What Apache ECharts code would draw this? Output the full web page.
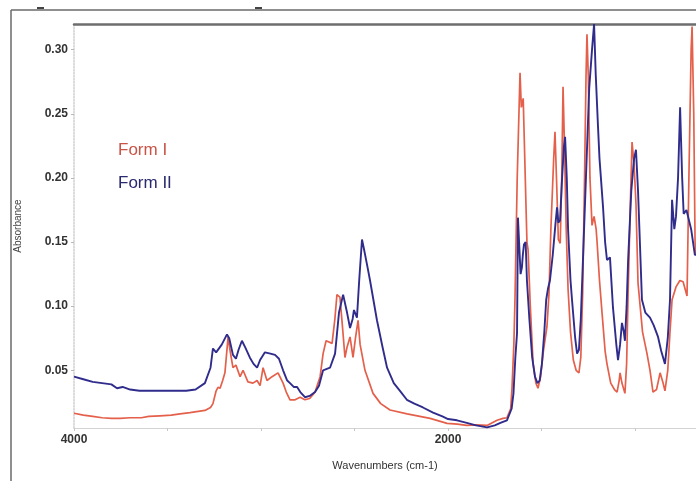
<!DOCTYPE html>
<html>
<head>
<meta charset="utf-8">
<script src="https://cdn.jsdelivr.net/npm/echarts@6/dist/echarts.min.js"></script>
<style>
  html, body { margin: 0; padding: 0; background: #fff; }
  #chart { width: 696px; height: 481px; }
</style>
</head>
<body>
<div id="chart"></div>
<script>
// Form I (red) spectrum
const formIWavenumbers = [4000,3950,3900,3850,3800,3754,3700,3640,3600,3540,
  3480,3433,3380,3300,3270,3257,3240,3230,3219,3205,
  3193,3176,3165,3150,3134,3112,3096,3070,3043,3021,
  3005,2989,2968,2941,2909,2882,2865,2845,2818,2791,
  2765,2740,2711,2684,2668,2652,2642,2620,2605,2594,
  2578,2565,2551,2540,2524,2508,2495,2481,2470,2444,
  2401,2360,2310,2219,2096,2005,1950,1900,1850,1791,
  1738,1706,1685,1665,1658,1648,1642,1630,1615,1608,
  1598,1588,1578,1572,1560,1545,1530,1519,1505,1490,
  1471,1460,1450,1435,1428,1420,1410,1400,1392,1385,
  1378,1368,1358,1345,1330,1315,1300,1290,1280,1270,
  1262,1257,1250,1241,1230,1219,1208,1203,1190,1176,
  1160,1150,1130,1110,1096,1085,1080,1070,1054,1045,
  1037,1025,1016,1005,995,984,960,936,920,904,
  885,866,850,840,825,813,802,781,760,743,
  722,712,700,695,686,679,674];
const formIAbsorbance = [0.0165,0.015,0.014,0.013,0.0125,0.0125,0.013,0.013,0.014,0.0145,
  0.015,0.016,0.017,0.0187,0.021,0.024,0.034,0.0367,0.036,0.042,
  0.048,0.076,0.065,0.052,0.054,0.045,0.050,0.041,0.040,0.042,
  0.038,0.052,0.042,0.045,0.048,0.040,0.033,0.027,0.027,0.029,
  0.027,0.028,0.033,0.045,0.063,0.073,0.074,0.071,0.090,0.109,
  0.107,0.085,0.060,0.068,0.076,0.060,0.075,0.089,0.070,0.050,
  0.032,0.024,0.019,0.016,0.0125,0.0086,0.008,0.007,0.0075,0.007,
  0.011,0.0125,0.013,0.020,0.036,0.070,0.105,0.200,0.282,0.255,
  0.262,0.261,0.150,0.144,0.100,0.055,0.040,0.036,0.045,0.065,
  0.084,0.110,0.160,0.215,0.236,0.200,0.152,0.149,0.200,0.271,
  0.230,0.160,0.113,0.080,0.058,0.050,0.048,0.060,0.110,0.200,
  0.280,0.312,0.280,0.200,0.163,0.170,0.160,0.150,0.120,0.094,
  0.065,0.055,0.040,0.035,0.033,0.042,0.048,0.040,0.032,0.055,
  0.110,0.180,0.228,0.210,0.180,0.118,0.080,0.063,0.050,0.033,
  0.035,0.048,0.040,0.034,0.050,0.080,0.105,0.115,0.120,0.119,
  0.108,0.200,0.300,0.318,0.250,0.150,0.140];

// Form II (blue) spectrum
const formIIWavenumbers = [4000,3950,3900,3850,3800,3770,3740,3700,3650,3600,
  3500,3400,3350,3300,3270,3257,3240,3230,3210,3182,
  3170,3150,3134,3120,3102,3085,3060,3040,3021,3005,
  2979,2950,2925,2904,2882,2860,2845,2825,2807,2790,
  2765,2740,2711,2690,2668,2631,2604,2583,2561,2540,
  2524,2510,2503,2487,2475,2460,2450,2430,2417,2380,
  2350,2326,2290,2257,2220,2180,2134,2080,2030,2000,
  1952,1900,1850,1791,1750,1720,1685,1660,1650,1640,
  1631,1626,1620,1612,1605,1600,1594,1585,1578,1565,
  1550,1535,1522,1510,1498,1485,1475,1465,1455,1440,
  1425,1417,1410,1401,1390,1380,1374,1365,1358,1345,
  1337,1320,1310,1300,1290,1275,1260,1245,1230,1219,
  1210,1198,1190,1171,1160,1150,1134,1118,1100,1091,
  1080,1070,1060,1054,1045,1037,1020,1005,995,984,
  963,945,920,900,877,860,840,825,813,802,
  790,781,770,759,748,740,725,717,700,680,
  674];
const formIIAbsorbance = [0.045,0.043,0.041,0.040,0.039,0.036,0.037,0.035,0.034,0.034,
  0.034,0.034,0.035,0.040,0.052,0.067,0.064,0.063,0.070,0.078,
  0.075,0.062,0.059,0.066,0.073,0.068,0.060,0.055,0.052,0.058,
  0.064,0.063,0.062,0.059,0.050,0.042,0.040,0.037,0.037,0.033,
  0.029,0.030,0.033,0.038,0.050,0.052,0.063,0.095,0.109,0.095,
  0.083,0.090,0.097,0.091,0.120,0.152,0.145,0.130,0.120,0.089,
  0.068,0.052,0.040,0.034,0.027,0.024,0.021,0.017,0.014,0.012,
  0.011,0.009,0.007,0.0055,0.007,0.009,0.011,0.020,0.032,0.060,
  0.079,0.169,0.150,0.125,0.130,0.140,0.148,0.150,0.120,0.090,
  0.060,0.045,0.040,0.042,0.055,0.080,0.105,0.114,0.120,0.140,
  0.165,0.177,0.165,0.167,0.200,0.225,0.232,0.200,0.160,0.120,
  0.105,0.075,0.063,0.066,0.090,0.150,0.210,0.270,0.300,0.320,
  0.280,0.240,0.215,0.177,0.150,0.136,0.138,0.099,0.070,0.058,
  0.070,0.087,0.080,0.073,0.100,0.136,0.190,0.215,0.222,0.190,
  0.105,0.095,0.091,0.085,0.076,0.065,0.055,0.075,0.105,0.183,
  0.160,0.170,0.200,0.255,0.200,0.172,0.175,0.175,0.160,0.140,
  0.140];

const xTickValues = [1000, 1500, 2000, 2500, 3000, 3500, 4000];
const xLabelValues = [2000, 4000];
const yTickValues = [0.05, 0.10, 0.15, 0.20, 0.25, 0.30];

const zip = (xs, ys) => xs.map((x, i) => [x, ys[i]]);

const font = "'Liberation Sans', Arial, sans-serif";
const red = "#e4604b";
const blue = "#2f2c8c";

const chart = echarts.init(document.getElementById("chart"));

chart.setOption({
  backgroundColor: "#fff",
  animation: false,
  textStyle: { fontFamily: font },
  grid: { left: 74, right: 0, top: 24, bottom: 53 },
  legend: {
    orient: "vertical",
    left: 113,
    top: 140,
    padding: 0,
    icon: "none",
    itemWidth: 0,
    itemHeight: 14,
    itemGap: 13,
    selectedMode: false,
    textStyle: { fontSize: 17, lineHeight: 20, fontFamily: font },
    data: [
      { name: "Form I", textStyle: { color: "#c85446" } },
      { name: "Form II", textStyle: { color: "#2a2a6e" } },
    ],
  },
  xAxis: [
    {
      type: "value",
      inverse: true,
      min: 674,
      max: 4000,
      name: "Wavenumbers (cm-1)",
      nameLocation: "middle",
      nameGap: 32,
      nameTextStyle: { fontSize: 11, color: "#333", fontFamily: font },
      axisLine: { lineStyle: { color: "#d4d4d4", width: 1 } },
      axisTick: { show: true, length: 3, customValues: xTickValues, lineStyle: { color: "#c8c8c8" } },
      axisLabel: {
        customValues: xLabelValues,
        formatter: (v) => String(v),
        fontSize: 12,
        fontWeight: "bold",
        color: "#333",
        margin: 6,
      },
      splitLine: { show: false },
    },
    {
      type: "value",
      position: "top",
      inverse: true,
      min: 674,
      max: 4000,
      axisLine: { show: true, lineStyle: { color: "#6e6e6e", width: 2.5 } },
      axisTick: { show: false },
      axisLabel: { show: false },
      splitLine: { show: false },
    },
  ],
  yAxis: {
    type: "value",
    min: 0.005,
    max: 0.32,
    name: "Absorbance",
    nameLocation: "middle",
    nameGap: 51,
    nameTextStyle: { fontSize: 10, color: "#444", fontFamily: font },
    axisLine: { show: true, lineStyle: { color: "#d0d0d0", type: "dotted", width: 1.5 } },
    axisTick: { show: true, length: 3, customValues: yTickValues, lineStyle: { color: "#b8b8b8" } },
    axisLabel: {
      customValues: yTickValues,
      formatter: (v) => v.toFixed(2),
      fontSize: 12,
      fontWeight: "bold",
      color: "#333",
      margin: 6,
    },
    splitLine: { show: false },
  },
  // outer figure frame, cut by the picture edge
  graphic: [
    { type: "line", shape: { x1: 11, y1: 10, x2: 11, y2: 481 }, style: { stroke: "#6a6a6a", lineWidth: 1.5 } },
    { type: "line", shape: { x1: 11, y1: 10, x2: 696, y2: 10 }, style: { stroke: "#6a6a6a", lineWidth: 1.5 } },
    { type: "line", shape: { x1: 37, y1: 8, x2: 44, y2: 8 }, style: { stroke: "#444", lineWidth: 2 } },
    { type: "line", shape: { x1: 255, y1: 8, x2: 262, y2: 8 }, style: { stroke: "#444", lineWidth: 2 } },
  ],
  series: [
    {
      name: "Form I",
      type: "line",
      showSymbol: false,
      data: zip(formIWavenumbers, formIAbsorbance),
      lineStyle: { color: red, width: 1.7 },
      itemStyle: { color: red },
      z: 2,
    },
    {
      name: "Form II",
      type: "line",
      showSymbol: false,
      data: zip(formIIWavenumbers, formIIAbsorbance),
      lineStyle: { color: blue, width: 1.9 },
      itemStyle: { color: blue },
      z: 3,
    },
  ],
});
</script>
</body>
</html>
